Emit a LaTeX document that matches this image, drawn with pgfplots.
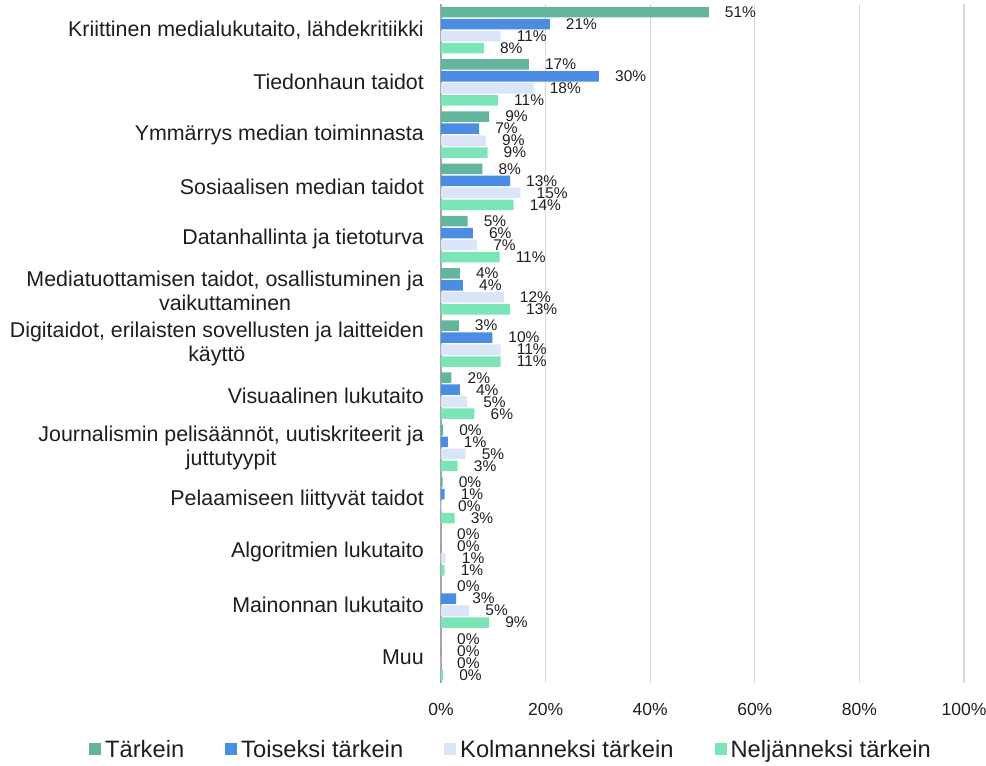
\documentclass[border=0pt]{standalone}
\usepackage{fontspec}
\setmainfont{Liberation Sans}
\usepackage{pgfplots}
\pgfplotsset{compat=1.18}
\definecolor{c1}{HTML}{64B59E}
\definecolor{c2}{HTML}{4A8DE3}
\definecolor{c3}{HTML}{DAE6F7}
\definecolor{c4}{HTML}{7BE5B7}
\definecolor{txt}{HTML}{1E1E1E}
\definecolor{gridc}{HTML}{D9D9D9}
\definecolor{axc}{HTML}{A6A6A6}
\begin{document}
\begin{tikzpicture}[x=1pt,y=1pt]
\path[use as bounding box] (0,0) rectangle (986,766);
\begin{axis}[
  at={(441pt,83pt)}, anchor=south west,
  scale only axis, width=523pt, height=679pt,
  xbar, bar width=10.5pt,
  xmin=0, xmax=100, ymin=-0.5, ymax=12.5, y dir=reverse,
  clip=false,
  axis line style={draw=none},
  xtick={20,40,60,80,100},
  xticklabels={20\%,40\%,60\%,80\%,100\%},
  extra x ticks={0}, extra x tick labels={0\%},
  extra x tick style={grid=major, major grid style={draw=axc, line width=1.8pt}},
  xmajorgrids, major grid style={draw=gridc, line width=1.3pt},
  major tick length=0pt,
  ytick={0,...,12},
  yticklabels={
    {Kriittinen medialukutaito, lähdekritiikki},
    {Tiedonhaun taidot},
    {Ymmärrys median toiminnasta},
    {Sosiaalisen median taidot},
    {Datanhallinta ja tietoturva},
    {Mediatuottamisen taidot, osallistuminen ja\\vaikuttaminen},
    {Digitaidot, erilaisten sovellusten ja laitteiden\\käyttö},
    {Visuaalinen lukutaito},
    {Journalismin pelisäännöt, uutiskriteerit ja\\juttutyypit},
    {Pelaamiseen liittyvät taidot},
    {Algoritmien lukutaito},
    {Mainonnan lukutaito},
    {Muu}},
  yticklabel style={font=\fontsize{21.4}{24}\selectfont, text=txt, align=center, anchor=east, inner sep=0pt, xshift=-17pt},
  xticklabel style={font=\fontsize{17.5}{20}\selectfont, text=txt, anchor=north, inner sep=0pt, yshift=-20pt},
  /pgf/number format/assume math mode=true,
  point meta=explicit symbolic,
  nodes near coords={\pgfplotspointmeta\%},
  nodes near coords style={font=\fontsize{15.5}{17}\selectfont, text=txt, anchor=west, inner sep=0pt, xshift=16pt},
  legend columns=4,
  legend style={at={(axis description cs:0.132,-0.0987)}, anchor=center, draw=none, fill=none,
    font=\fontsize{23.7}{26}\selectfont, text=txt,
    nodes={inner sep=0pt},
    column sep=4pt,
    /tikz/every even column/.append style={column sep=41pt}},
  myleg/.style={legend image code/.code={\fill[##1] (0pt,-5pt) rectangle (12pt,7pt);}},
]
\addplot[fill=c1, draw=none, bar shift=18pt, myleg] coordinates {(51.2,0)[51] (16.8,1)[17] (9.2,2)[9] (7.9,3)[8] (5.1,4)[5] (3.6,5)[4] (3.4,6)[3] (2.0,7)[2] (0.4,8)[0] (0.3,9)[0] (0,10)[0] (0,11)[0] (0,12)[0]};
\addlegendentry{Tärkein}
\addplot[fill=c2, draw=none, bar shift=6pt, myleg] coordinates {(20.8,0)[21] (30.2,1)[30] (7.3,2)[7] (13.2,3)[13] (6.1,4)[6] (4.2,5)[4] (9.8,6)[10] (3.6,7)[4] (1.3,8)[1] (0.7,9)[1] (0,10)[0] (2.9,11)[3] (0,12)[0]};
\addlegendentry{Toiseksi tärkein}
\addplot[fill=c3, draw=none, bar shift=-6pt, myleg] coordinates {(11.4,0)[11] (17.7,1)[18] (8.6,2)[9] (15.2,3)[15] (6.9,4)[7] (12.0,5)[12] (11.4,6)[11] (5.0,7)[5] (4.7,8)[5] (0.2,9)[0] (0.9,10)[1] (5.4,11)[5] (0,12)[0]};
\addlegendentry{Kolmanneksi tärkein}
\addplot[fill=c4, draw=none, bar shift=-18pt, myleg] coordinates {(8.2,0)[8] (10.9,1)[11] (8.9,2)[9] (13.9,3)[14] (11.2,4)[11] (13.2,5)[13] (11.4,6)[11] (6.4,7)[6] (3.2,8)[3] (2.6,9)[3] (0.7,10)[1] (9.2,11)[9] (0.4,12)[0]};
\addlegendentry{Neljänneksi tärkein}
\end{axis}
\end{tikzpicture}
\end{document}
